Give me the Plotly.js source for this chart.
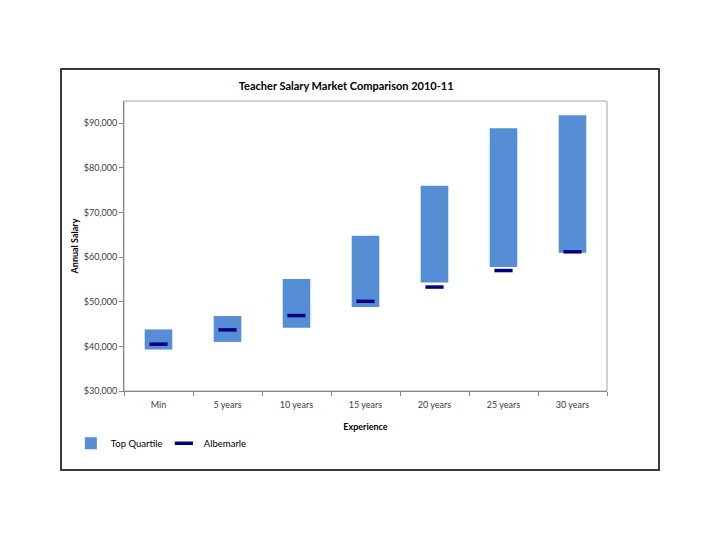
<!DOCTYPE html>
<html>
<head>
<meta charset="utf-8">
<script src="https://cdn.plot.ly/plotly-3.0.1.min.js"></script>
<style>html,body{margin:0;padding:0;background:#fff;}#chart{width:720px;height:540px;}</style>
</head>
<body>
<div id="chart"></div>
<script>
var categories = ["Min", "5 years", "10 years", "15 years", "20 years", "25 years", "30 years"];
var quartileLow = [39300, 41000, 44200, 48800, 54300, 57800, 61000];
var quartileHigh = [43800, 46800, 55100, 64800, 76000, 88900, 91800];
var albemarle = [40500, 43700, 46900, 50100, 53300, 57000, 61200];
var yTickVals = [30000, 40000, 50000, 60000, 70000, 80000, 90000];
var yTickText = ["$30,000", "$40,000", "$50,000", "$60,000", "$70,000", "$80,000", "$90,000"];

var spans = quartileHigh.map(function (h, i) { return h - quartileLow[i]; });
var fontFam = "Lato, 'Noto Sans', sans-serif";

var traces = [
  {
    type: "bar", name: "Top Quartile", x: categories, y: spans, base: quartileLow,
    marker: {color: "#558ed5"}, width: 0.4, hoverinfo: "skip"
  },
  {
    type: "scatter", mode: "markers", name: "Albemarle", x: categories, y: albemarle,
    marker: {symbol: "line-ew", size: 13, color: "#000080", line: {color: "#000080", width: 3.5}}
  }
];

var layout = {
  width: 720, height: 540,
  margin: {l: 124, r: 113, t: 101, b: 149},
  paper_bgcolor: "#fff", plot_bgcolor: "#fff",
  font: {family: fontFam, size: 9, color: "#404040"},
  title: {text: "<b>Teacher Salary Market Comparison 2010-11</b>", x: 0.46, xref: "paper", xanchor: "center",
          y: 0.84, yref: "container", yanchor: "middle", font: {size: 11, color: "#000", family: fontFam}},
  xaxis: {
    type: "category", range: [-0.5, 6.5], showgrid: false, zeroline: false,
    showline: true, linecolor: "#868686", linewidth: 1,
    ticks: "outside", tickson: "boundaries", ticklen: 4, tickcolor: "#868686",
    ticklabelstandoff: 5,
    tickfont: {size: 9, color: "#404040"},
    title: {text: "<b>Experience</b>", font: {size: 9, color: "#000"}, standoff: 14}
  },
  yaxis: {
    range: [30000, 95000], showgrid: false, zeroline: false,
    showline: true, linecolor: "#868686", linewidth: 1,
    ticks: "outside", ticklen: 4, tickcolor: "#868686",
    tickvals: yTickVals, ticktext: yTickText, tickfont: {size: 9, color: "#404040"},
    title: {text: "<b>Annual Salary</b>", font: {size: 9, color: "#000"}, standoff: 3}
  },
  legend: {orientation: "h", x: -0.11, xanchor: "left", y: -0.18, yanchor: "middle",
           font: {size: 9.5, color: "#000"}, bgcolor: "rgba(0,0,0,0)", itemwidth: 30,
           entrywidth: 48, entrywidthmode: "pixels", tracegroupgap: 0},
  showlegend: true,
  shapes: [
    {type: "rect", xref: "paper", yref: "paper", x0: -0.1304, x1: 1.1077, y0: -0.2724, y1: 1.1103,
     line: {color: "#3a3a3a", width: 2}, fillcolor: "rgba(0,0,0,0)", layer: "below"},
    {type: "rect", xref: "paper", yref: "paper", x0: 0, x1: 1, y0: 0, y1: 1,
     line: {color: "#a6a6a6", width: 1}, fillcolor: "rgba(0,0,0,0)", layer: "below"}
  ]
};

Plotly.newPlot("chart", traces, layout, {displayModeBar: false, staticPlot: true});
</script>
</body>
</html>
